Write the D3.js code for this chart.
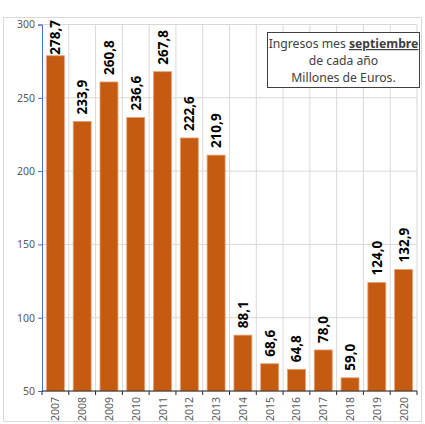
<!DOCTYPE html>
<html>
<head>
<meta charset="utf-8">
<script src="https://cdn.jsdelivr.net/npm/d3@7"></script>
<style>
  body { margin: 0; background: #fff; }
  svg { display: block; }
</style>
</head>
<body>
<div id="chart"></div>
<script>
const years = ["2007", "2008", "2009", "2010", "2011", "2012", "2013",
               "2014", "2015", "2016", "2017", "2018", "2019", "2020"];
const ingresos = [278.7, 233.9, 260.8, 236.6, 267.8, 222.6, 210.9,
                  88.1, 68.6, 64.8, 78.0, 59.0, 124.0, 132.9];
const yTicks = [50, 100, 150, 200, 250, 300];

const width = 425, height = 424;
const margin = {top: 24.5, right: 8, bottom: 33, left: 42};
const font = "'Noto Sans', 'Open Sans', sans-serif";

const svg = d3.select("#chart").append("svg")
    .attr("width", width)
    .attr("height", height);

// outer chart frame
svg.append("rect")
    .attr("x", 3.5).attr("y", 17.5)
    .attr("width", 418).attr("height", 404)
    .attr("fill", "none")
    .attr("stroke", "#d9d9d9");

const x = d3.scaleBand()
    .domain(years)
    .range([margin.left, width - margin.right])
    .paddingInner(0.33)
    .paddingOuter(0.165);

const y = d3.scaleLinear()
    .domain([50, 300])
    .range([height - margin.bottom, margin.top]);

// horizontal grid
svg.append("g")
    .selectAll("line")
    .data(yTicks)
    .enter()
    .append("line")
        .attr("x1", margin.left).attr("x2", width - margin.right)
        .attr("y1", d => y(d)).attr("y2", d => y(d))
        .attr("stroke", "#d9d9d9");

// vertical grid at category boundaries
const step = x.step();
const bounds = years.map((d, i) => margin.left + step * (i + 1));
svg.append("g")
    .selectAll("line")
    .data(bounds)
    .enter()
    .append("line")
        .attr("x1", d => d).attr("x2", d => d)
        .attr("y1", margin.top).attr("y2", height - margin.bottom)
        .attr("stroke", "#d9d9d9");

// bars
svg.append("g")
    .selectAll("rect")
    .data(years)
    .enter()
    .append("rect")
        .attr("x", d => x(d))
        .attr("y", (d, i) => y(ingresos[i]))
        .attr("width", x.bandwidth())
        .attr("height", (d, i) => y(50) - y(ingresos[i]))
        .attr("fill", "#c55a11")
        .attr("stroke", "#e8a074")
        .attr("stroke-width", 0.8);

// value labels, rotated
const fmt = v => v.toFixed(1).replace(".", ",");
svg.append("g")
    .selectAll("text")
    .data(years)
    .enter()
    .append("text")
        .text((d, i) => fmt(ingresos[i]))
        .attr("font-family", font)
        .attr("font-size", 13.5)
        .attr("font-weight", "bold")
        .attr("fill", "#000")
        .attr("text-anchor", "start")
        .each(function(d, i) {
            const len = this.getComputedTextLength();
            let base = y(ingresos[i]) - 7;
            base = Math.max(base, 20 + len);
            const cx = x(d) + x.bandwidth() / 2 + 5;
            d3.select(this).attr("transform", `translate(${cx},${base}) rotate(-90)`);
        });

// y axis
const yAxis = svg.append("g")
    .attr("transform", `translate(${margin.left},0)`)
    .call(d3.axisLeft(y).tickValues(yTicks).tickSize(4).tickPadding(3));
yAxis.select(".domain").attr("stroke", "#4472c4");
yAxis.selectAll(".tick line").attr("stroke", "#4472c4");
yAxis.selectAll("text")
    .attr("font-family", font)
    .attr("font-size", 10.5)
    .attr("fill", "#595959");

// x axis
const xAxis = svg.append("g")
    .attr("transform", `translate(0,${height - margin.bottom})`);
xAxis.append("line")
    .attr("x1", margin.left).attr("x2", width - margin.right)
    .attr("stroke", "#262626");
xAxis.selectAll("line.tk")
    .data([margin.left].concat(bounds))
    .enter()
    .append("line")
        .attr("class", "tk")
        .attr("x1", d => d).attr("x2", d => d)
        .attr("y1", 0).attr("y2", 4)
        .attr("stroke", "#262626");
xAxis.selectAll("text")
    .data(years)
    .enter()
    .append("text")
        .text(d => d)
        .attr("font-family", font)
        .attr("font-size", 10.5)
        .attr("fill", "#595959")
        .attr("text-anchor", "end")
        .attr("transform", d => `translate(${x(d) + x.bandwidth() / 2 + 4},6) rotate(-90)`);

// legend box
const box = svg.append("g").attr("transform", "translate(267,32)");
box.append("rect")
    .attr("x", 0.5).attr("y", 0.5)
    .attr("width", 152).attr("height", 55)
    .attr("fill", "#fff")
    .attr("stroke", "#404040");
const lines = box.append("text")
    .attr("font-family", font)
    .attr("font-size", 12.2)
    .attr("fill", "#404040")
    .attr("text-anchor", "middle");
const l1 = lines.append("tspan").attr("x", 76.5).attr("y", 16);
l1.append("tspan").text("Ingresos mes ");
l1.append("tspan").text("septiembre")
    .attr("font-weight", "bold")
    .attr("text-decoration", "underline");
lines.append("tspan").attr("x", 76.5).attr("y", 33).text("de cada año");
lines.append("tspan").attr("x", 76.5).attr("y", 50).text("Millones de Euros.");
</script>
</body>
</html>
